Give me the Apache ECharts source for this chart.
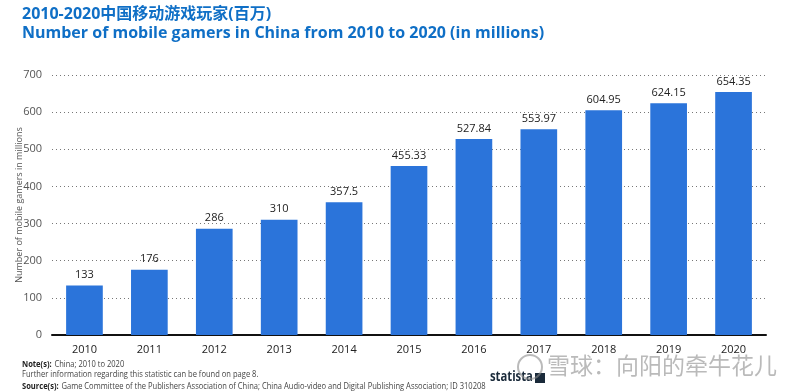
<!DOCTYPE html>
<html><head><meta charset="utf-8">
<script src="https://cdn.jsdelivr.net/npm/echarts@6/dist/echarts.min.js"></script>
<style>html,body{margin:0;padding:0;background:#fff}#c{width:800px;height:392px}</style>
</head><body><div id="c"></div>
<script>
const categories = ['2010','2011','2012','2013','2014','2015','2016','2017','2018','2019','2020'];
const values = [133,176,286,310,357.5,455.33,527.84,553.97,604.95,624.15,654.35];
const yTicks = [0,100,200,300,400,500,600,700];
const labels = ['133','176','286','310','357.5','455.33','527.84','553.97','604.95','624.15','654.35'];

const chart = echarts.init(document.getElementById('c'));
const font = '"Open Sans","Noto Sans",sans-serif';
const small = '"Open Sans",sans-serif';
chart.setOption({
  animation:false,
  grid:{left:52,right:34,top:75,bottom:57,outerBoundsMode:'none',containLabel:false},
  xAxis:{type:'category',data:categories,
    axisLine:{lineStyle:{color:'#111',width:2}},axisTick:{show:false},
    axisLabel:{color:'#222',fontSize:11,fontFamily:font,margin:9}},
  yAxis:{type:'value',min:yTicks[0],max:yTicks[yTicks.length-1],interval:100,
    name:'Number of mobile gamers in millions',nameLocation:'middle',nameGap:28,nameMoveOverlap:false,
    nameTextStyle:{color:'#555',fontSize:9,fontFamily:font},
    axisLabel:{color:'#555',fontSize:11,fontFamily:font,margin:10},
    splitLine:{lineStyle:{color:'#777',type:[1,3],width:1}},
    axisLine:{show:false},axisTick:{show:false}},
  series:[{type:'bar',data:values,barWidth:'56.5%',
    itemStyle:{color:'#2b74da'},
    label:{show:true,position:'top',distance:5,color:'#222',fontSize:11,fontFamily:font,
      formatter:p=>labels[p.dataIndex]}}],
  graphic:[
    {type:'text',left:22,top:6,style:{text:'2010-2020中国移动游戏玩家(百万)',fill:'#0f6fc6',font:'bold 16px "Open Sans","Noto Sans CJK SC",sans-serif'}},
    {type:'text',left:22,top:25,style:{text:'Number of mobile gamers in China from 2010 to 2020 (in millions)',fill:'#0f6fc6',font:'bold 16px "Open Sans",sans-serif'}},
    {type:'text',x:22,y:358,scaleX:0.84,style:{rich:{b:{fontWeight:'bold',fontSize:9,fill:'#222',fontFamily:small},n:{fontSize:9,fill:'#444',fontFamily:small}},text:'{b|Note(s):} {n|China; 2010 to 2020}'}},
    {type:'text',x:22,y:370,scaleX:0.84,style:{text:'Further information regarding this statistic can be found on page 8.',fontSize:9,fill:'#444',fontFamily:small}},
    {type:'text',x:22,y:380,scaleX:0.84,style:{rich:{b:{fontWeight:'bold',fontSize:9,fill:'#222',fontFamily:small},n:{fontSize:9,fill:'#444',fontFamily:small}},text:'{b|Source(s):} {n|Game Committee of the Publishers Association of China; China Audio-video and Digital Publishing Association; ID 310208}'}},
    {type:'text',x:490,y:369,scaleX:0.75,style:{text:'statista',fill:'#1a2a3a',font:'bold 15px "Open Sans",sans-serif'}},
    {type:'rect',shape:{x:535,y:373,width:10,height:10},style:{fill:'#1a2a3a'}},
    {type:'text',left:547,top:354,style:{text:'雪球：向阳的牵牛花儿',fill:'rgba(140,140,140,0.6)',font:'23px "Noto Sans CJK SC",sans-serif'}},
    {type:'circle',shape:{cx:530,cy:367,r:12},style:{fill:'none',stroke:'rgba(140,140,140,0.6)',lineWidth:2}}
  ]
});
</script></body></html>
